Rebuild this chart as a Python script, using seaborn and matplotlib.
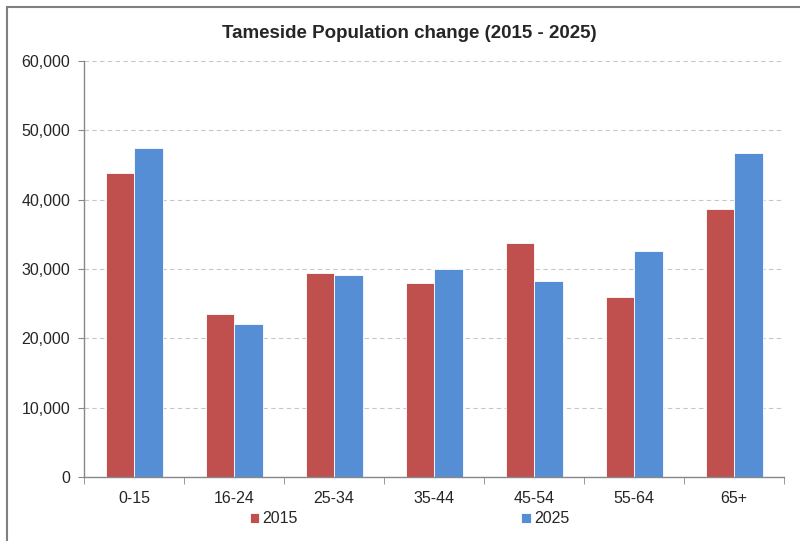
import pandas as pd
import matplotlib.pyplot as plt
import seaborn as sns
import numpy as np
from matplotlib.patches import Rectangle
from matplotlib.ticker import FuncFormatter

ageGroups = ['0-15', '16-24', '25-34', '35-44', '45-54', '55-64', '65+']
pop2015 = [43900, 23600, 29400, 28000, 33700, 26050, 38700]
pop2025 = [47500, 22050, 29150, 30050, 28250, 32600, 46700]
years = ['2015', '2025']
colors = ['#C0504D', '#558ED5']

df = pd.DataFrame({'age': ageGroups * 2,
                   'year': [years[0]] * len(ageGroups) + [years[1]] * len(ageGroups),
                   'pop': pop2015 + pop2025})

sns.set_style('white')
plt.rcParams['font.family'] = ['Liberation Sans', 'DejaVu Sans']

fig = plt.figure(figsize=(8, 5.41), dpi=100)
ax = fig.add_axes([0.105, 0.118, 0.875, 0.769])

sns.barplot(data=df, x='age', y='pop', hue='year', palette=colors, width=0.57,
            edgecolor='white', linewidth=0.6, saturation=1, ax=ax)

ax.set_ylim(0, 60000)
ax.set_xlim(-0.5, len(ageGroups) - 0.5)
ax.set_yticks(np.arange(0, 60001, 10000))
ax.yaxis.set_major_formatter(FuncFormatter(lambda v, p: '{:,.0f}'.format(v)))
ax.set_xlabel('')
ax.set_ylabel('')
ax.grid(axis='y', color='#C8C8C8', linestyle=(0, (4, 3)), linewidth=0.8)
ax.set_axisbelow(True)

for s in ['top', 'right']:
    ax.spines[s].set_visible(False)
for s in ['left', 'bottom']:
    ax.spines[s].set_color('#888888')
    ax.spines[s].set_linewidth(1)

ax.tick_params(axis='y', which='major', direction='out', length=4, color='#888888',
               left=True, labelsize=11.5, pad=6)
ax.tick_params(axis='x', which='major', length=0, labelsize=11.5, pad=10)
ax.set_xticks(np.arange(-0.5, len(ageGroups)), minor=True)
ax.tick_params(axis='x', which='minor', direction='out', length=5, color='#888888', bottom=True)

ax.legend(loc='center', bbox_to_anchor=(0.465, -0.10), ncol=2, frameon=False,
          fontsize=11.5, handlelength=0.6, handleheight=0.6, handletextpad=0.2,
          columnspacing=14)

fig.text(0.512, 0.938, 'Tameside Population change (2015 - 2025)', ha='center', va='center',
         fontsize=13.5, fontweight='bold')

fig.patches.append(Rectangle((0.009, -0.1), 1.2, 1.087, transform=fig.transFigure,
                             fill=False, edgecolor='#808080', linewidth=1.5))

fig.savefig('out.png', dpi=100)
